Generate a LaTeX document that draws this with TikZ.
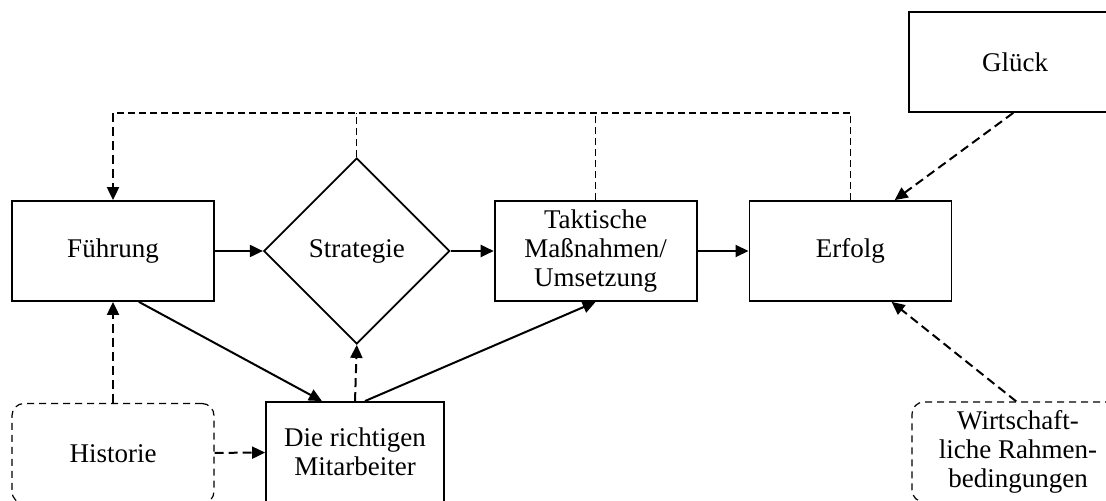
\documentclass[tikz,border=0pt]{standalone}
\usepackage{fontspec}
\setmainfont{Liberation Serif}
\usetikzlibrary{shapes.geometric, arrows.meta, positioning}

\begin{document}
\begin{tikzpicture}[
    font=\fontsize{13.5pt}{14.5pt}\selectfont,
    box/.style={rectangle, draw, line width=0.9pt, minimum width=101pt, minimum height=50pt, align=center, inner sep=2pt},
    softbox/.style={box, line width=0.6pt, dash pattern=on 3.5pt off 2.5pt, rounded corners=6pt},
    rhombus/.style={diamond, draw, line width=0.9pt, aspect=1, minimum size=93pt, inner sep=0pt},
    arrow/.style={-{Triangle[length=6.5pt, width=6pt]}, line width=1pt},
    dasharrow/.style={arrow, dash pattern=on 4.5pt off 2.5pt},
    feedback/.style={line width=0.6pt, dash pattern=on 3.5pt off 2pt}
]
    \useasboundingbox (0,0) rectangle (553pt,-250.5pt);

    \node[box] (fuehrung) at (56.5pt,-125.5pt) {Führung};
    \node[rhombus, right=24pt of fuehrung] (strategie) {Strategie};
    \node[box, right=21.5pt of strategie] (taktik) {Taktische\\Maßnahmen/\\Umsetzung};
    \node[box, right=25.5pt of taktik] (erfolg) {Erfolg};
    \node[box, minimum width=106pt] (glueck) at (507.5pt,-31pt) {Glück};

    \node[softbox, below=50.5pt of fuehrung] (historie) {Historie};
    \node[box, minimum width=89pt] (mitarbeiter) at (177.5pt,-226pt) {Die richtigen\\Mitarbeiter};
    \node[softbox, minimum width=106pt] (rahmen) at (509pt,-226pt) {Wirtschaft-\\liche Rahmen-\\bedingungen};

    \coordinate (fb) at (0,-56.5pt);

    % main chain
    \draw[arrow] (fuehrung) -- (strategie);
    \draw[arrow] (strategie) -- (taktik);
    \draw[arrow] (taktik) -- (erfolg);
    \draw[arrow] (fuehrung.-63) -- (mitarbeiter.123);
    \draw[arrow] (mitarbeiter.79) -- (taktik.south);
    \draw[dasharrow] (mitarbeiter.north) -- (strategie.south);

    % influences
    \draw[dasharrow] (historie) -- (fuehrung);
    \draw[dasharrow] (historie) -- (mitarbeiter);
    \draw[dasharrow] (glueck.-92) -- (erfolg.49);
    \draw[dasharrow] (rahmen.92) -- (erfolg.-51);

    % feedback loop
    \draw[feedback] (erfolg.north) -- (erfolg.north |- fb) -- (fuehrung.north |- fb);
    \draw[feedback] (strategie.north) -- (strategie.north |- fb);
    \draw[feedback] (taktik.north) -- (taktik.north |- fb);
    \draw[dasharrow] (fuehrung.north |- fb) -- (fuehrung.north);
\end{tikzpicture}
\end{document}
